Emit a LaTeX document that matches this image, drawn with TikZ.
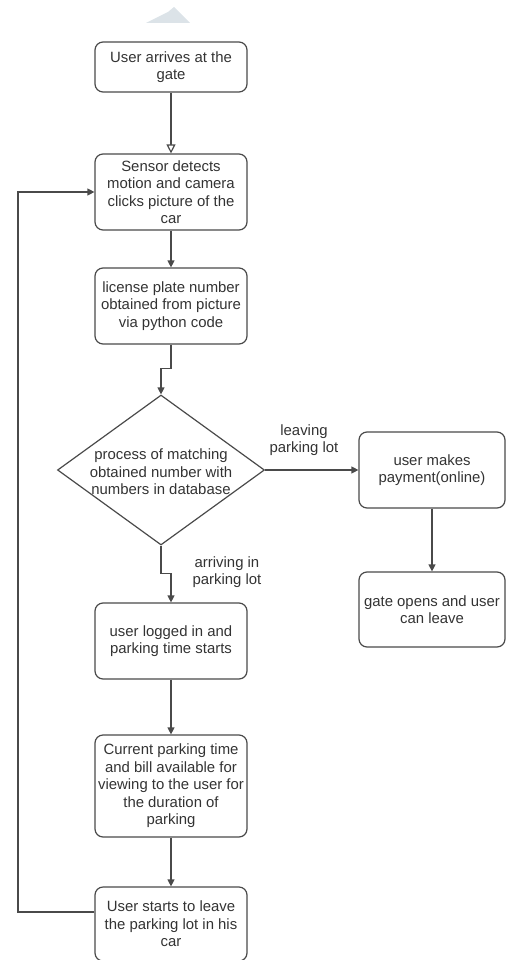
\documentclass[tikz,border=0pt]{standalone}
\usepackage{fontspec}
\setmainfont{Liberation Sans}
\usetikzlibrary{arrows.meta,shapes.geometric,calc}
\definecolor{ln}{HTML}{4A4A4A}
\definecolor{tx}{HTML}{333333}
\definecolor{wm}{HTML}{DCE3E8}
\begin{document}
\begin{tikzpicture}[x=1pt,y=-1pt,
  every node/.style={font=\fontsize{14.9}{17.5}\selectfont, text=tx},
  proc/.style={draw=ln, line width=1.2pt, rounded corners=8pt, minimum width=152pt, minimum height=76pt, align=center, inner sep=0pt},
  procr/.style={proc, minimum width=146pt},
  dia/.style={draw=ln, line width=1.2pt, diamond, aspect=1.38, minimum width=207pt, minimum height=150pt, inner sep=0pt},
  lab/.style={align=center, inner sep=0pt},
  conn/.style={draw=ln, line width=1.2pt, -{Triangle[length=7pt,width=7pt]}},
  openconn/.style={draw=ln, line width=1.2pt, -{Triangle[open,length=9pt,width=9pt,fill=white]}}
]
\useasboundingbox (0,0) rectangle (506,960);
\clip (0,0) rectangle (506,960);
% faint watermark at top
\fill[wm] (146,23) -- (168,12) -- (174,7) -- (190,23) -- cycle;

\node[proc, minimum height=50pt] (b1) at (171,67) {User arrives at the\\gate};
\node[proc] (b2) at (171,192) {Sensor detects\\motion and camera\\clicks picture of the\\car};
\node[proc] (b3) at (171,306) {license plate number\\obtained from picture\\via python code};
\node[dia] (dec) at (161,470) {};
\node[lab] (dect) at (161,472) {process of matching\\obtained number with\\numbers in database};
\node[procr] (r1) at (432,470) {user makes\\payment(online)};
\node[procr, minimum height=75pt] (r2) at (432,609.5) {gate opens and user\\can leave};
\node[proc] (b4) at (171,641) {user logged in and\\parking time starts};
\node[proc, minimum height=102pt] (b5) at (171,786) {Current parking time\\and bill available for\\viewing to the user for\\the duration of\\parking};
\node[proc, minimum height=74pt] (b6) at (171,924) {User starts to leave\\the parking lot in his\\car};

\node[lab] (ll) at (304,440) {leaving\\parking lot};
\node[lab] (al) at (227,572) {arriving in\\parking lot};

\coordinate (lb) at (18,912);
\coordinate (lt) at (18,192);

\draw[openconn] (b1) -- (b2);
\draw[conn] (b2) -- (b3);
\draw[conn] (b3.south) -- ++(0,24) -| (dec.north);
\draw[conn] (dec.east) -- (r1.west);
\draw[conn] (r1) -- (r2);
\draw[conn] (dec.south) -- ++(0,28) -| (b4.north);
\draw[conn] (b4) -- (b5);
\draw[conn] (b5) -- (b6);
\draw[conn] ([yshift=12pt]b6.west) -- (lb) -- (lt) -- (b2.west);
\end{tikzpicture}
\end{document}
